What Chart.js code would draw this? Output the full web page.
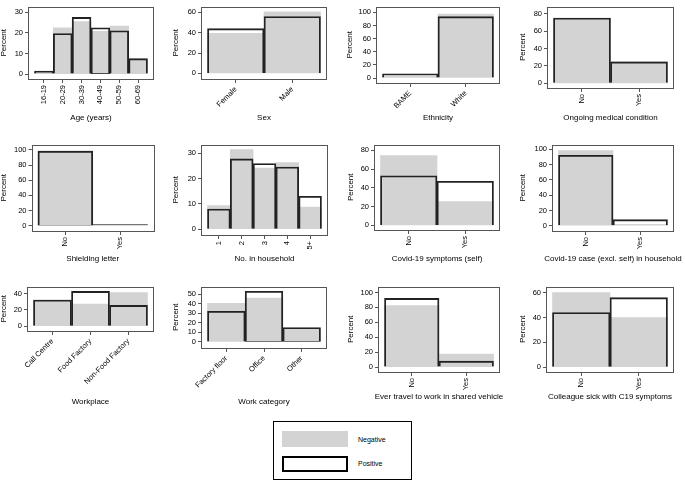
<!DOCTYPE html>
<html>
<head>
<meta charset="utf-8">
<script src="https://cdn.jsdelivr.net/npm/chart.js@4.4.0/dist/chart.umd.min.js"></script>
<style>
body { margin:0; width:685px; height:483px; position:relative; background:#fff; overflow:hidden; font-family:"Liberation Sans", Arial, sans-serif; }
canvas { position:absolute; }
#legend { position:absolute; left:273px; top:421px; width:139px; height:59px; border:1px solid #000; box-sizing:border-box; }
#legend .sw { position:absolute; left:8px; width:66px; height:16px; box-sizing:border-box; }
#legend span { position:absolute; left:84px; font-size:7px; color:#000; }
</style>
</head>
<body>
<div id="legend">
  <div class="sw" style="top:9px;background:#d3d3d3"></div>
  <span style="top:14px">Negative</span>
  <div class="sw" style="top:34px;border:2px solid #000"></div>
  <span style="top:38px">Positive</span>
</div>
<script>
// categories + percentages (Negative = grey fill, Positive = outline)
const ageCats = ['16-19', '20-29', '30-39', '40-49', '50-59', '60-69'];
const ageNeg = [0.7, 22.5, 25.5, 20.8, 23.3, 7.3];
const agePos = [1.5, 19.7, 27.5, 22.5, 21, 7.5];

const sexCats = ['Female', 'Male'];
const sexNeg = [39.5, 60.5];
const sexPos = [44, 56];

const ethCats = ['BAME', 'White'];
const ethNeg = [2.5, 97.5];
const ethPos = [6.5, 93.5];

const yesNo = ['No', 'Yes'];
const medNeg = [75, 25];
const medPos = [75.3, 24.7];

const shieldNeg = [98.5, 1.5];
const shieldPos = [98.3, 1.7];

const hhCats = ['1', '2', '3', '4', '5+'];
const hhNeg = [9.3, 31.5, 24.2, 26.3, 8.7];
const hhPos = [8, 27.8, 26, 24.6, 13];

const sympNeg = [74.5, 25.5];
const sympPos = [53, 47];

const caseNeg = [98, 2];
const casePos = [92, 8];

const workCats = ['Call Centre', 'Food Factory', 'Non-Food Factory'];
const workNeg = [32, 27, 41];
const workPos = [32, 42.5, 25.5];

const catCats = ['Factory floor', 'Office', 'Other'];
const catNeg = [40.5, 46, 13.5];
const catPos = [32, 53, 15];

const vehNeg = [82.5, 17.5];
const vehPos = [92, 8];

const collNeg = [60, 40];
const collPos = [44, 56];

const ticks10_30 = [0, 10, 20, 30];
const ticks20_60 = [0, 20, 40, 60];
const ticks20_80 = [0, 20, 40, 60, 80];
const ticks20_100 = [0, 20, 40, 60, 80, 100];
const ticks10_40 = [0, 10, 20, 30, 40];
const ticks10_50 = [0, 10, 20, 30, 40, 50];

// box = canvas edges, fr = plot frame (page px)
const panels = [
  {cats: ageCats, neg: ageNeg, pos: agePos, title: 'Age (years)', yt: ticks10_30, ymin: -2.4, ymax: 32.8, rot: 90,
   box: {l: -1, t: 0, r: 160, b: 123}, fr: {l: 29, t: 1, r: 153, b: 79}},
  {cats: sexCats, neg: sexNeg, pos: sexPos, title: 'Sex', yt: ticks20_60, ymin: -5.5, ymax: 65.8, rot: 45,
   box: {l: 171, t: 0, r: 332, b: 123}, fr: {l: 202, t: 1, r: 326, b: 79}},
  {cats: ethCats, neg: ethNeg, pos: ethPos, title: 'Ethnicity', yt: ticks20_100, ymin: -7.6, ymax: 109, rot: 45,
   box: {l: 345, t: 0, r: 506, b: 123}, fr: {l: 377, t: 1, r: 499, b: 83}},
  {cats: yesNo, neg: medNeg, pos: medPos, title: 'Ongoing medical condition', yt: ticks20_80, ymin: -5.4, ymax: 88.5, rot: 90,
   box: {l: 518, t: 0, r: 685, b: 123}, fr: {l: 548, t: 1, r: 673, b: 88}},

  {cats: yesNo, neg: shieldNeg, pos: shieldPos, title: 'Shielding letter', yt: ticks20_100, ymin: -6.9, ymax: 107, rot: 90,
   box: {l: -1.5, t: 138, r: 160, b: 264}, fr: {l: 32, t: 143, r: 153, b: 231}},
  {cats: hhCats, neg: hhNeg, pos: hhPos, title: 'No. in household', yt: ticks10_30, ymin: -2.3, ymax: 33.5, rot: 90,
   box: {l: 171, t: 138, r: 333, b: 264}, fr: {l: 202, t: 143, r: 327, b: 235}},
  {cats: yesNo, neg: sympNeg, pos: sympPos, title: 'Covid-19 symptoms (self)', yt: ticks20_80, ymin: -4.9, ymax: 86.3, rot: 90,
   box: {l: 346, t: 138, r: 506, b: 264}, fr: {l: 375, t: 143, r: 499, b: 230}},
  {cats: yesNo, neg: caseNeg, pos: casePos, title: 'Covid-19 case (excl. self) in household', yt: ticks20_100, ymin: -6.8, ymax: 106, rot: 90,
   box: {l: 518, t: 138, r: 685, b: 264}, fr: {l: 553, t: 143, r: 673, b: 231}},

  {cats: workCats, neg: workNeg, pos: workPos, title: 'Workplace', yt: ticks10_40, ymin: -5.8, ymax: 48.5, rot: 45,
   box: {l: -1, t: 280, r: 160, b: 407}, fr: {l: 28, t: 284, r: 153, b: 331}},
  {cats: catCats, neg: catNeg, pos: catPos, title: 'Work category', yt: ticks10_50, ymin: -6.4, ymax: 58, rot: 45,
   box: {l: 171, t: 280, r: 332, b: 407}, fr: {l: 202, t: 284, r: 326, b: 348}},
  {cats: yesNo, neg: vehNeg, pos: vehPos, title: 'Ever travel to work in shared vehicle', yt: ticks20_100, ymin: -6.6, ymax: 108, rot: 90,
   box: {l: 346, t: 280, r: 506, b: 402}, fr: {l: 379, t: 284, r: 499, b: 372}},
  {cats: yesNo, neg: collNeg, pos: collPos, title: 'Colleague sick with C19 symptoms', yt: ticks20_60, ymin: -3.9, ymax: 65, rot: 90,
   box: {l: 518, t: 280, r: 685, b: 402}, fr: {l: 547, t: 284, r: 673, b: 372}}
];

const FONT = '"Liberation Sans", Arial, sans-serif';
const frameCol = '#555';

const framePlugin = {
  id: 'frame',
  afterDraw(chart, args, opts) {
    const a = chart.chartArea, ctx = chart.ctx;
    ctx.save();
    ctx.strokeStyle = frameCol;
    ctx.lineWidth = 1;
    ctx.strokeRect(Math.round(a.left) - 0.5, Math.round(a.top) + 0.5, Math.round(a.right - a.left) + 1, Math.round(a.bottom - a.top) - 1);
    // x axis title (drawn here so long titles are not squeezed)
    ctx.fillStyle = '#000';
    ctx.font = '8px ' + FONT;
    ctx.textAlign = 'center';
    ctx.textBaseline = 'middle';
    ctx.fillText(opts.text, (a.left + a.right) / 2, chart.height - 5);
    ctx.restore();
  }
};

panels.forEach(p => {
  const cv = document.createElement('canvas');
  const w = p.box.r - p.box.l, h = p.box.b - p.box.t;
  cv.width = w; cv.height = h;
  cv.style.left = p.box.l + 'px';
  cv.style.top = p.box.t + 'px';
  cv.style.width = w + 'px';
  cv.style.height = h + 'px';
  document.body.appendChild(cv);

  const n = p.cats.length;
  const W = p.fr.r - p.fr.l;
  const pad = 5.5 * n / (W - 11);

  new Chart(cv, {
    type: 'bar',
    data: {
      datasets: [
        {label: 'Positive', data: p.pos.map((v, i) => ({x: i, y: v})),
         backgroundColor: 'rgba(0,0,0,0)', borderColor: '#222', borderWidth: 1.2, order: 0},
        {label: 'Negative', data: p.neg.map((v, i) => ({x: i, y: v})),
         backgroundColor: '#d3d3d3', borderWidth: 0, order: 1}
      ]
    },
    options: {
      responsive: false,
      animation: false,
      layout: {padding: {left: 0, top: p.fr.t - p.box.t, right: p.box.r - p.fr.r, bottom: 0}},
      datasets: {bar: {grouped: false, barPercentage: 1, categoryPercentage: 1}},
      plugins: {legend: {display: false}, tooltip: {enabled: false}, frame: {text: p.title}},
      scales: {
        x: {
          type: 'linear', offset: false,
          min: -0.5 - pad, max: n - 0.5 + pad,
          afterBuildTicks: s => { s.ticks = p.cats.map((c, i) => ({value: i})); },
          afterFit: s => { s.height = p.box.b - p.fr.b; },
          ticks: {autoSkip: false, minRotation: p.rot, maxRotation: p.rot, padding: 2,
                  color: '#000', font: {family: FONT, size: 7.5},
                  callback: v => p.cats[v]},
          grid: {offset: false, drawOnChartArea: false, drawTicks: true, tickLength: 4, color: frameCol},
          border: {display: false}
        },
        y: {
          type: 'linear',
          min: p.ymin, max: p.ymax,
          afterBuildTicks: s => { s.ticks = p.yt.map(v => ({value: v})); },
          afterFit: s => { s.width = p.fr.l - p.box.l; },
          ticks: {padding: 2, color: '#000', font: {family: FONT, size: 7.5}},
          title: {display: true, text: 'Percent', color: '#000', padding: 0, font: {family: FONT, size: 8}},
          grid: {drawOnChartArea: false, drawTicks: true, tickLength: 4, color: frameCol},
          border: {display: false}
        }
      }
    },
    plugins: [framePlugin]
  });
});
</script>
</body>
</html>
